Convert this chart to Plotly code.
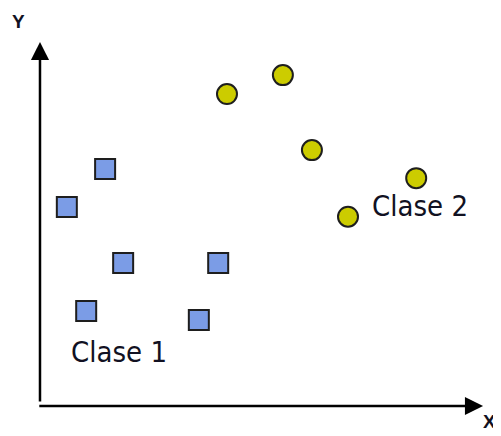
import plotly.graph_objects as go

# Data (arbitrary feature units)
clase1_x = [1.48, 0.61, 1.89, 4.05, 1.05, 3.61]
clase1_y = [6.51, 5.47, 3.93, 3.93, 2.61, 2.36]
clase2_x = [4.25, 5.52, 6.18, 8.55, 7.00]
clase2_y = [8.57, 9.09, 7.03, 6.26, 5.20]
labels = ["Clase 1", "Clase 2"]
label_x = [1.80, 8.64]
label_y = [1.48, 5.49]
axis_names = ["X", "Y"]

X_TIP, Y_TIP = 10.07, 10.0

fig = go.Figure()
fig.add_trace(go.Scatter(
    x=clase1_x, y=clase1_y, mode="markers", name=labels[0],
    marker=dict(symbol="square", size=20, color="#7b9ce6",
                line=dict(color="#1e1e1e", width=2))))
fig.add_trace(go.Scatter(
    x=clase2_x, y=clase2_y, mode="markers", name=labels[1],
    marker=dict(symbol="circle", size=20, color="#cccc00",
                line=dict(color="#1e1e1e", width=2))))

txt_font = dict(family="DejaVu Sans Condensed, DejaVu Sans, sans-serif", size=29, color="#111122")
for t, x, y in zip(labels, label_x, label_y):
    fig.add_annotation(x=x, y=y, xref="x", yref="y", text=t, showarrow=False, font=txt_font)

# axis arrows
fig.add_annotation(x=X_TIP, y=0, ax=-0.05, ay=0, xref="x", yref="y", axref="x", ayref="y",
                   text="", showarrow=True, arrowhead=2, arrowwidth=2.5, arrowsize=1.45,
                   arrowcolor="#000000")
fig.add_annotation(x=0, y=Y_TIP, ax=0, ay=0.08, xref="x", yref="y", axref="x", ayref="y",
                   text="", showarrow=True, arrowhead=2, arrowwidth=2.5, arrowsize=1.45,
                   arrowcolor="#000000")

lab_font = dict(family="Liberation Sans, Arial, sans-serif", size=19, color="#111122", weight="bold")
fig.add_annotation(x=10.22, y=-0.42, xref="x", yref="y", text=axis_names[0],
                   showarrow=False, font=lab_font, borderpad=0)
fig.add_annotation(x=-0.48, y=10.56, xref="x", yref="y", text=axis_names[1],
                   showarrow=False, font=lab_font)

fig.update_xaxes(range=[-0.727, 10.659], visible=False, fixedrange=True)
fig.update_yaxes(range=[-1.044, 10.934], visible=False, fixedrange=True)
fig.update_layout(
    width=501, height=436,
    margin=dict(l=0, r=0, t=0, b=0),
    paper_bgcolor="white", plot_bgcolor="white",
    showlegend=False,
)
fig.write_html("out.html")
